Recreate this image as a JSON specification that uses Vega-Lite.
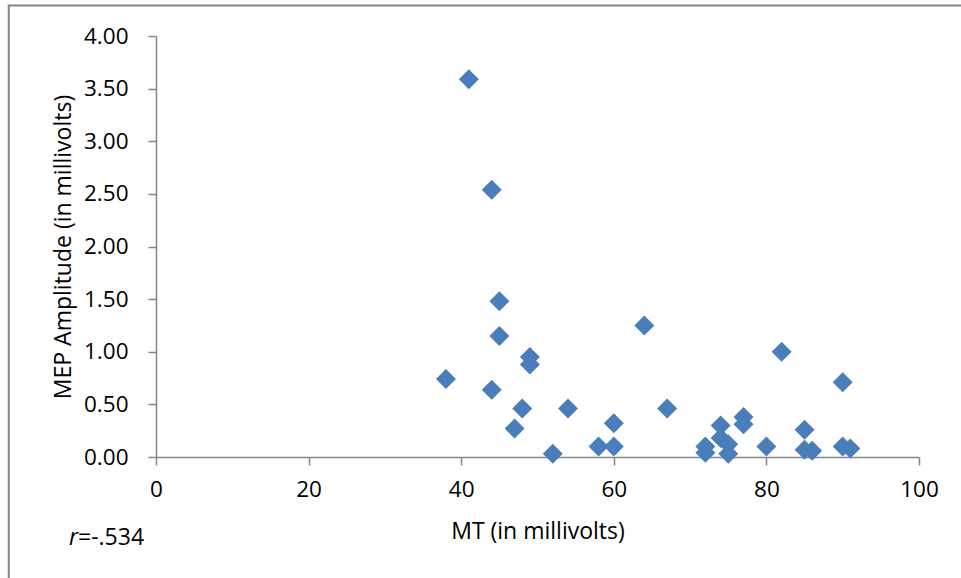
{
  "$schema": "https://vega.github.io/schema/vega-lite/v6.json",
  "width": 763,
  "height": 421,
  "autosize": {"type": "none"},
  "padding": {"left": 156, "top": 36, "right": 42, "bottom": 121},
  "background": "white",
  "config": {
    "view": {"stroke": null},
    "font": "Open Sans"
  },
  "datasets": {
    "points": [
      {"MT": 41, "MEP": 3.59},
      {"MT": 44, "MEP": 2.54},
      {"MT": 45, "MEP": 1.48},
      {"MT": 45, "MEP": 1.15},
      {"MT": 49, "MEP": 0.95},
      {"MT": 49, "MEP": 0.88},
      {"MT": 38, "MEP": 0.74},
      {"MT": 44, "MEP": 0.64},
      {"MT": 48, "MEP": 0.46},
      {"MT": 47, "MEP": 0.27},
      {"MT": 52, "MEP": 0.03},
      {"MT": 54, "MEP": 0.46},
      {"MT": 58, "MEP": 0.10},
      {"MT": 60, "MEP": 0.32},
      {"MT": 60, "MEP": 0.10},
      {"MT": 64, "MEP": 1.25},
      {"MT": 67, "MEP": 0.46},
      {"MT": 72, "MEP": 0.10},
      {"MT": 72, "MEP": 0.04},
      {"MT": 74, "MEP": 0.30},
      {"MT": 74, "MEP": 0.18},
      {"MT": 75, "MEP": 0.12},
      {"MT": 75, "MEP": 0.03},
      {"MT": 77, "MEP": 0.38},
      {"MT": 77, "MEP": 0.31},
      {"MT": 80, "MEP": 0.10},
      {"MT": 82, "MEP": 1.00},
      {"MT": 85, "MEP": 0.26},
      {"MT": 85, "MEP": 0.07},
      {"MT": 86, "MEP": 0.06},
      {"MT": 90, "MEP": 0.71},
      {"MT": 90, "MEP": 0.10},
      {"MT": 91, "MEP": 0.08}
    ],
    "note": [{"r": "r", "rest": "=-.534"}]
  },
  "layer": [
    {
      "data": {"name": "note"},
      "mark": {"type": "rect", "fill": null, "stroke": "#868686", "strokeWidth": 2},
      "encoding": {
        "x": {"datum": -19.3, "type": "quantitative", "scale": {"domain": [0, 100], "nice": false}},
        "x2": {"datum": 120},
        "y": {"datum": 4.29, "type": "quantitative"},
        "y2": {"datum": -2}
      }
    },
    {
      "data": {"name": "points"},
      "mark": {"type": "point", "shape": "diamond", "filled": true, "size": 400, "color": "#4a7ebb", "opacity": 1},
      "encoding": {
        "x": {
          "field": "MT", "type": "quantitative",
          "scale": {"domain": [0, 100], "nice": false},
          "axis": {
            "title": "MT (in millivolts)",
            "values": [0, 20, 40, 60, 80, 100],
            "grid": false,
            "labelFlush": false,
            "domainColor": "#868686", "domainWidth": 1.5,
            "tickColor": "#868686", "tickWidth": 1.5, "tickSize": 8,
            "labelFont": "Open Sans", "labelFontSize": 22.5, "labelColor": "#000000",
            "labelPadding": 13,
            "titleFont": "Open Sans", "titleFontSize": 23, "titleFontWeight": "normal", "titleColor": "#000000",
            "titlePadding": 20
          }
        },
        "y": {
          "field": "MEP", "type": "quantitative",
          "scale": {"domain": [0, 4], "nice": false},
          "axis": {
            "title": "MEP Amplitude (in millivolts)",
            "values": [0, 0.5, 1, 1.5, 2, 2.5, 3, 3.5, 4],
            "format": ".2f",
            "grid": false,
            "labelFlush": false,
            "domainColor": "#868686", "domainWidth": 1.5,
            "tickColor": "#868686", "tickWidth": 1.5, "tickSize": 8,
            "labelFont": "Open Sans", "labelFontSize": 22.5, "labelColor": "#000000",
            "labelPadding": 20,
            "titleFont": "Open Sans", "titleFontSize": 23, "titleFontWeight": "normal", "titleColor": "#000000",
            "titlePadding": 8
          }
        }
      }
    },
    {
      "data": {"name": "note"},
      "mark": {"type": "text", "align": "left", "baseline": "alphabetic", "fontSize": 23, "fontStyle": "italic", "font": "Open Sans", "color": "#000000"},
      "encoding": {
        "x": {"datum": -11.4, "type": "quantitative"},
        "y": {"datum": -0.84, "type": "quantitative"},
        "text": {"field": "r"}
      }
    },
    {
      "data": {"name": "note"},
      "mark": {"type": "text", "align": "left", "baseline": "alphabetic", "fontSize": 23, "font": "Open Sans", "color": "#000000", "dx": 9},
      "encoding": {
        "x": {"datum": -11.4, "type": "quantitative"},
        "y": {"datum": -0.84, "type": "quantitative"},
        "text": {"field": "rest"}
      }
    }
  ]
}
